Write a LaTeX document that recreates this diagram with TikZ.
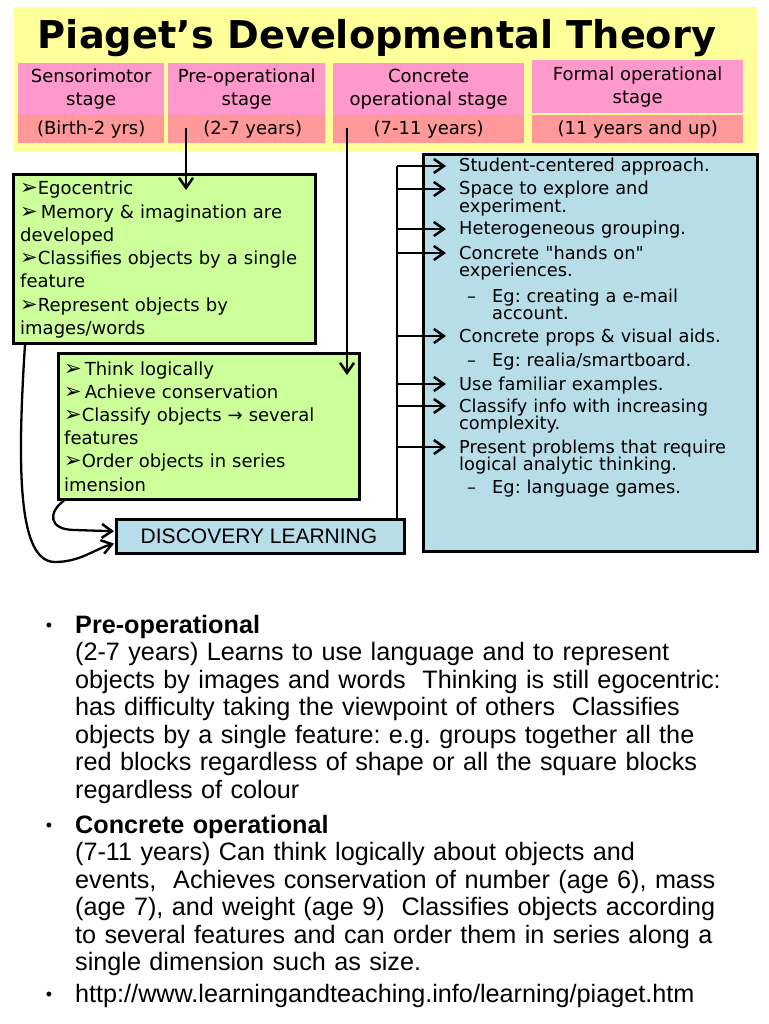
\documentclass[tikz,border=0pt]{standalone}
\usepackage{fontspec}
\usetikzlibrary{arrows.meta,calc}
\setmainfont{DejaVu Sans}
\newfontfamily\cf{DejaVu Sans}
\newfontfamily\af{Liberation Sans}
\definecolor{yel}{HTML}{FFFF99}
\definecolor{pinkt}{HTML}{FF99CC}
\definecolor{salm}{HTML}{FF9999}
\definecolor{grn}{HTML}{CCFF99}
\definecolor{lblue}{HTML}{B7DEE8}
\newcommand\ptr{{\fontsize{21}{21}\selectfont ➢}}
\frenchspacing
\tikzset{
  box/.style={draw=black, line width=2.6pt, inner sep=0pt, anchor=north west},
  ln/.style={line width=2.3pt},
  arr/.style={line width=2.3pt, -{Straight Barb[length=10pt,width=14pt,line width=2.5pt]}},
  pk/.style={inner sep=0pt, anchor=north west, align=center, font=\cf\fontsize{18}{23}\selectfont},
  gt/.style={font=\cf\fontsize{18}{23.2}\selectfont, inner sep=0pt, anchor=base west, text width=300pt, align=left},
  it/.style={font=\cf\fontsize{17.8}{17.5}\selectfont, inner sep=0pt, anchor=base west, text width=295pt, align=left},
  bt/.style={font=\af\fontsize{25.2}{27.5}\selectfont, inner sep=0pt, anchor=base west, text width=690pt, align=left},
}
\begin{document}
\begin{tikzpicture}[x=1pt,y=-1pt]
\useasboundingbox (0,0) rectangle (768,1024);
\fill[white] (0,0) rectangle (768,1024);
% header
\node[fill=yel, inner sep=0pt, anchor=north west, minimum width=743pt, minimum height=145pt] (hdr) at (14,7) {};
\node[font=\bfseries\cf\fontsize{38.3}{40}\selectfont, inner sep=0pt, anchor=base] (title) at (377,49) {Piaget’s Developmental Theory};
% stage boxes
\node[pk, fill=pinkt, minimum width=146pt, minimum height=52pt] (s1) at (18,63) {Sensorimotor\\stage};
\node[pk, fill=salm, minimum width=146pt, minimum height=28pt] (y1) at (18,115) {(Birth-2 yrs)};
\node[pk, fill=pinkt, minimum width=157pt, minimum height=52pt] (s2) at (168,63) {Pre-operational\\stage};
\node[pk, fill=salm, minimum width=157pt, minimum height=28pt] (y2) at (168,115) {\hspace*{12pt}(2-7 years)};
\node[pk, fill=pinkt, minimum width=191pt, minimum height=52pt] (s3) at (333,63) {Concrete\\operational stage};
\node[pk, fill=salm, minimum width=191pt, minimum height=28pt] (y3) at (333,115) {(7-11 years)};
\node[pk, fill=pinkt, minimum width=211pt, minimum height=53pt] (s4) at (532,60) {Formal operational\\stage\vphantom{p}};
\node[pk, fill=salm, minimum width=211pt, minimum height=28pt] (y4) at (532,115) {(11 years and up)};
% green boxes
\node[box, fill=grn, minimum width=302pt, minimum height=169pt] (g1) at (12,173) {};
\node[gt] (g1t) at (20,195) {\ptr Egocentric\\\ptr\,Memory \& imagination are\\developed\\\ptr Classifies objects by a single\\feature\\\ptr Represent objects by\\images/words};
\node[box, fill=grn, minimum width=301pt, minimum height=146pt] (g2) at (57,352) {};
\node[gt] (g2t) at (64,375) {\ptr\,Think logically\\\ptr\,Achieve conservation\\\ptr Classify objects → several\\features\\\ptr Order objects in series\\imension};
% discovery
\node[box, fill=lblue, minimum width=288pt, minimum height=34pt] (disc) at (115,518) {};
\node[font=\af\fontsize{21}{24}\selectfont, inner sep=0pt, anchor=base] (disct) at (259,543) {DISCOVERY LEARNING};
% big blue box
\node[box, fill=lblue, minimum width=334pt, minimum height=397pt] (bb) at (422,153) {};
\node[it] (i1) at (459,172) {Student-centered approach.};
\node[it] (i2) at (459,195) {Space to explore and\\experiment.};
\node[it] (i3) at (459,235) {Heterogeneous grouping.};
\node[it] (i4) at (459,259) {Concrete "hands on"\\experiences.};
\node[it] (d1) at (467,302) {–};
\node[it] (e1) at (492,302) {Eg: creating a e-mail\\account.};
\node[it] (i5) at (459,342) {Concrete props \& visual aids.};
\node[it] (d2) at (467,366) {–};
\node[it] (e2) at (492,366) {Eg: realia/smartboard.};
\node[it] (i6) at (459,390) {Use familiar examples.};
\node[it] (i7) at (459,412) {Classify info with increasing\\complexity.};
\node[it] (i8) at (459,453) {Present problems that require\\logical analytic thinking.};
\node[it] (d3) at (467,493) {–};
\node[it] (e3) at (492,493) {Eg: language games.};
% connectors
\coordinate (vt) at (397,166);
\draw[ln] (vt) -- (vt |- disc.north);
\foreach \n in {i1,i2,i3,i4,i5,i6,i7,i8}{
  \coordinate (a\n) at ($(\n.base west)+(-13,-6)$);
  \draw[arr] (vt |- a\n) -- (a\n);
}
\coordinate (pa) at (186,128);
\draw[arr] (pa) -- ($(g1.north -| pa)+(0,17)$);
\coordinate (ca) at (347,128);
\draw[arr] (ca) -- ($(g2.north -| ca)+(0,23)$);
\draw[arr] ($(g1.south west)+(13,0)$) .. controls (17,470) and (18,562) .. (55,562) .. controls (80,562) and (95,549) .. ($(disc.south west)+(-1,-11)$);
\draw[arr] ($(g2.south west)+(7,0)$) .. controls (48,512) and (48,530) .. (75,530) -- ($(disc.west)+(-1,-5)$);
% bottom text
\node[font=\af\fontsize{18}{20}\selectfont, inner sep=0pt, anchor=base] (b1) at (49,631) {•};
\node[bt] (p1) at (75,633) {\textbf{Pre-operational}\\(2-7 years) Learns to use language and to represent\\objects by images and words\ \ Thinking is still egocentric:\\has difficulty taking the viewpoint of others\ \ Classifies\\objects by a single feature: e.g. groups together all the\\red blocks regardless of shape or all the square blocks\\regardless of colour};
\node[font=\af\fontsize{18}{20}\selectfont, inner sep=0pt, anchor=base] (b2) at (49,831) {•};
\node[bt] (p2) at (75,833) {\textbf{Concrete operational}\\(7-11 years) Can think logically about objects and\\events,\ \ Achieves conservation of number (age 6), mass\\(age 7), and weight (age 9)\ \ Classifies objects according\\to several features and can order them in series along a\\single dimension such as size.};
\node[font=\af\fontsize{18}{20}\selectfont, inner sep=0pt, anchor=base] (b3) at (49,1000) {•};
\node[bt] (p3) at (75,1002) {http://www.learningandteaching.info/learning/piaget.htm};
\end{tikzpicture}
\end{document}
